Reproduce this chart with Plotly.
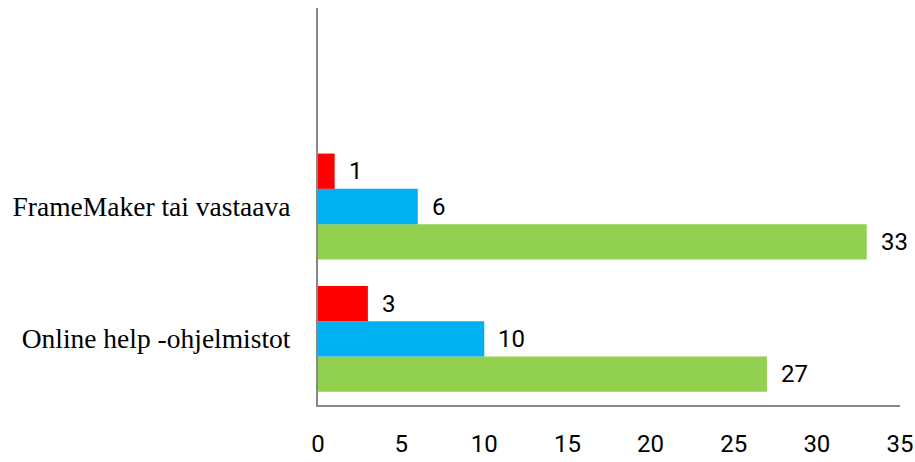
import plotly.graph_objects as go

categories = ["Online help -ohjelmistot", "FrameMaker tai vastaava", " "]
series_red = [3, 1, None]
series_blue = [10, 6, None]
series_green = [27, 33, None]
x_ticks = [0, 5, 10, 15, 20, 25, 30, 35]

fig = go.Figure()
for vals, col in [(series_green, "#92D050"), (series_blue, "#00B0F0"), (series_red, "#FF0000")]:
    fig.add_trace(go.Bar(y=categories, x=vals, orientation="h", marker=dict(color=col, line=dict(width=0)),
                         showlegend=False))

# value labels
offsets = {"#92D050": -1, "#00B0F0": 0, "#FF0000": 1}
annots = []
for vals, col in [(series_green, "#92D050"), (series_blue, "#00B0F0"), (series_red, "#FF0000")]:
    for cat, v in zip(categories, vals):
        if v is None:
            continue
        annots.append(dict(x=v, y=cat, text=str(v), showarrow=False, xanchor="left", xshift=12,
                           yshift=offsets[col] * 35.2, font=dict(family="Roboto", size=24, color="#000000")))

fig.update_layout(
    width=915, height=462,
    margin=dict(l=318, r=15, t=8, b=57),
    plot_bgcolor="white", paper_bgcolor="white",
    barmode="group", bargap=0.2, bargroupgap=0,
    annotations=annots,
    xaxis=dict(range=[0, 35], tickvals=x_ticks, showgrid=False, zeroline=False, automargin=False,
               showline=True, linecolor="#888888", linewidth=2,
               tickfont=dict(family="Roboto", size=24, color="#000000"), ticks="", ticklabelstandoff=16),
    yaxis=dict(showgrid=False, zeroline=False, showline=True, linecolor="#888888", linewidth=2, automargin=False,
               tickfont=dict(family="Liberation Serif", size=27.5, color="#000000"), ticks="", ticklabelstandoff=20,
               categoryorder="array", categoryarray=categories),
)
fig.write_html("out.html")
